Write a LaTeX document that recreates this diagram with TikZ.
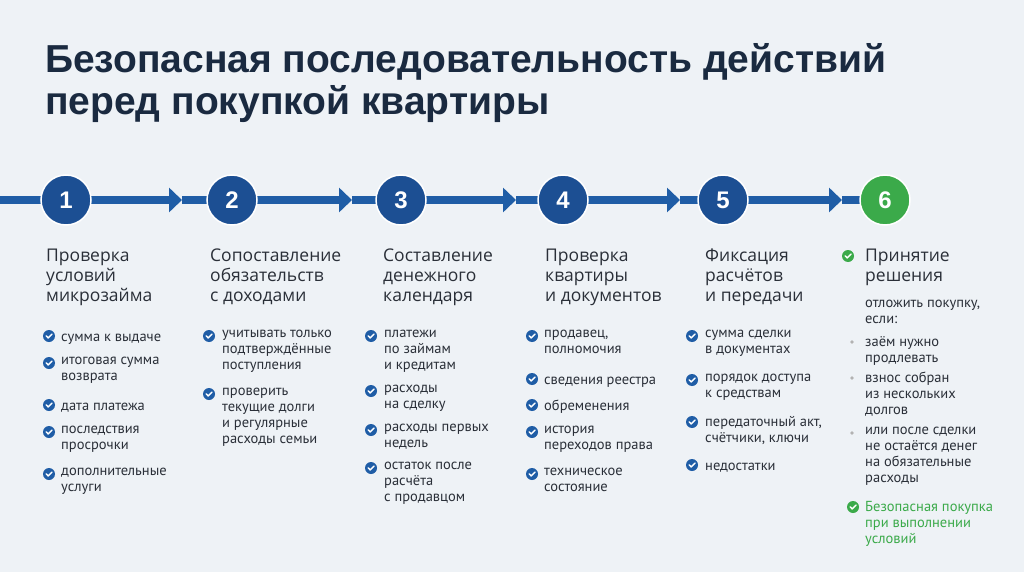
\documentclass[tikz,border=0pt]{standalone}
\usepackage{fontspec}
\setmainfont{PT Sans}
\newfontfamily\headfont{Open Sans}
\newfontfamily\titlefont{Liberation Sans}
\usetikzlibrary{arrows.meta, positioning}
\definecolor{bgc}{HTML}{EEF2F6}
\definecolor{bluec}{HTML}{1F5DA6}
\definecolor{darkblue}{HTML}{1C4F93}
\definecolor{greenc}{HTML}{3BAA4A}
\definecolor{navy}{HTML}{1A2A40}
\definecolor{txt}{HTML}{2A2F38}
\tikzstyle{stepnode} = [circle, fill=darkblue, draw=white, line width=1.5pt,
minimum size=50pt, inner sep=0pt, text=white,
font=\titlefont\bfseries\fontsize{24}{24}\selectfont]
\tikzstyle{head} = [anchor=north west, inner sep=0pt, align=left, text=txt,
execute at begin node=\strut,
font=\headfont\fontsize{17.5}{20}\selectfont]
\tikzstyle{item} = [anchor=north west, inner sep=0pt, align=left, text=txt,
execute at begin node=\strut,
font=\fontsize{14.5}{16}\selectfont]
\tikzstyle{bar} = [bluec, line width=8pt]
\tikzset{chk/.pic={
	\fill[#1] (0,0) circle (6pt);
	\draw[white, line width=1.4pt, line cap=round, line join=round]
		(-2.8pt,0.2pt) -- (-0.8pt,-2pt) -- (3pt,2pt);
}}
\begin{document}
\begin{tikzpicture}[x=1pt, y=-1pt]
	\useasboundingbox (0,0) rectangle (1024,572);
	\fill[bgc] (-2,-2) rectangle (1026,574);
	\node[anchor=west, inner sep=0pt, text=navy, align=left,
	font=\titlefont\bfseries\fontsize{39}{42}\selectfont] (title) at (45,83)
	{Безопасная последовательность действий\\перед покупкой квартиры};
	%% Steps
	\coordinate (s1) at (66,200);
	\coordinate (s2) at (232,200);
	\coordinate (s3) at (401,200);
	\coordinate (s4) at (563,200);
	\coordinate (s5) at (723,200);
	\coordinate (s6) at (885,200);
	\coordinate (start) at (-2,200);
	\draw[bar] (start) -- (s1);
	\foreach \a/\b/\t in {s1/s2/182, s2/s3/352, s3/s4/516, s4/s5/680, s5/s6/842} {
		\coordinate (t\a) at (\t,200);
		\draw[bar, -{Triangle[length=13pt, width=24pt]}] (\a) -- (t\a);
		\draw[bar] (t\a) -- (\b);
	}
	\node[stepnode] (n1) at (s1) {1};
	\node[stepnode] (n2) at (s2) {2};
	\node[stepnode] (n3) at (s3) {3};
	\node[stepnode] (n4) at (s4) {4};
	\node[stepnode] (n5) at (s5) {5};
	\node[stepnode, fill=greenc] (n6) at (s6) {6};
	%% Headings
	\node[head] (h1) at (46,249) {Проверка\\условий\\микрозайма};
	\node[head] (h2) at (210,249) {Сопоставление\\обязательств\\с доходами};
	\node[head] (h3) at (383,249) {Составление\\денежного\\календаря};
	\node[head] (h4) at (545,249) {Проверка\\квартиры\\и документов};
	\node[head] (h5) at (705,249) {Фиксация\\расчётов\\и передачи};
	\node[head] (h6) at (865,249) {Принятие\\решения};
	\pic at (848,256) {chk=greenc};
	%% Column 1
	\foreach \y/\t in {336/{сумма к выдаче}, 363/{итоговая сумма\\возврата},
		405/{дата платежа}, 432/{последствия\\просрочки},
		474/{дополнительные\\услуги}} {
		\pic at (49,\y) {chk=bluec};
		\node[item] (a\y) at (61,\y-6) {\t};
	}
	%% Column 2
	\foreach \y/\t in {336/{учитывать только\\подтверждённые\\поступления},
		394/{проверить\\текущие долги\\и регулярные\\расходы семьи}} {
		\pic at (209,\y) {chk=bluec};
		\node[item] (b\y) at (222,\y-6) {\t};
	}
	%% Column 3
	\foreach \y/\t in {336/{платежи\\по займам\\и кредитам}, 391/{расходы\\на сделку},
		430/{расходы первых\\недель}, 468/{остаток после\\расчёта\\с продавцом}} {
		\pic at (371,\y) {chk=bluec};
		\node[item] (c\y) at (384,\y-6) {\t};
	}
	%% Column 4
	\foreach \y/\t in {336/{продавец,\\полномочия}, 379/{сведения реестра},
		405/{обременения}, 432/{история\\переходов права},
		474/{техническое\\состояние}} {
		\pic at (532,\y) {chk=bluec};
		\node[item] (d\y) at (544,\y-6) {\t};
	}
	%% Column 5
	\foreach \y/\t in {336/{сумма сделки\\в документах}, 380/{порядок доступа\\к средствам},
		422/{передаточный акт,\\счётчики, ключи}, 465/{недостатки}} {
		\pic at (692,\y) {chk=bluec};
		\node[item] (e\y) at (705,\y-6) {\t};
	}
	%% Column 6
	\node[item] (f0) at (865,300) {отложить покупку,\\если:};
	\foreach \y/\t in {342/{заём нужно\\продлевать}, 378/{взнос собран\\из нескольких\\долгов},
		433/{или после сделки\\не остаётся денег\\на обязательные\\расходы}} {
		\fill[gray!60] (852,\y) circle (1.8pt);
		\node[item] (f\y) at (865,\y-6) {\t};
	}
	\pic at (853,507) {chk=greenc};
	\node[item, text=greenc] (fok) at (865,501) {Безопасная покупка\\при выполнении\\условий};
\end{tikzpicture}
\end{document}
